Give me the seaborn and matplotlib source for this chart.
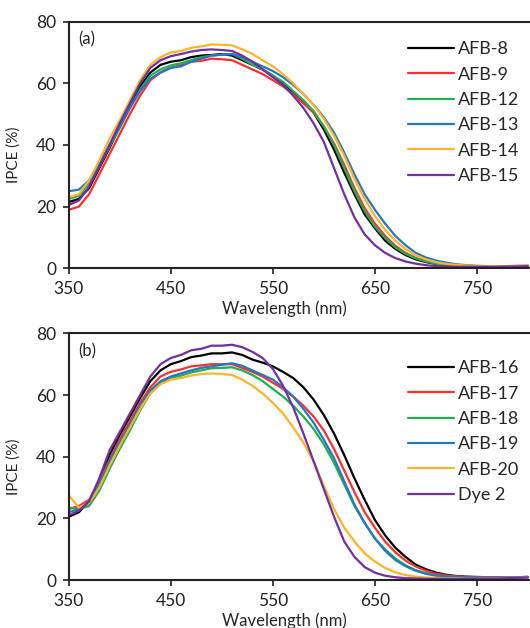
import numpy as np
import pandas as pd
import seaborn as sns
import matplotlib.pyplot as plt

# wavelength grid (nm)
wavelength = list(range(350, 810, 10))

# panel (a)
afb8 = [21.5, 22.5, 26, 32.5, 39, 46, 52.5, 59, 63.5, 66, 67, 67.5, 68.5, 69, 69.2, 69.5, 69, 67.5, 66,
        64.5, 62.5, 60, 57, 54, 50.5, 45, 38.5, 31, 24, 17.5, 13, 9, 6.3, 4.3, 2.9, 2, 1.4, 1,
        0.8, 0.6, 0.5, 0.5, 0.5, 0.6, 0.6, 0.7]
afb9 = [19, 20, 24, 30.5, 37, 43.5, 50, 56, 61, 63.5, 65, 66, 67, 67.3, 68, 67.8, 67.5, 66, 64.5,
        63, 61, 59, 56.5, 53.5, 50.5, 46, 40.5, 33.5, 26, 19.5, 14.5, 10.5, 7.3, 5, 3.4, 2.3, 1.6, 1.2,
        0.9, 0.8, 0.7, 0.6, 0.6, 0.7, 0.7, 0.8]
afb12 = [22.5, 23.5, 27.5, 33, 39.5, 45.5, 52, 58, 62.5, 64.5, 65.8, 66.5, 67.5, 68.5, 69, 69.3, 69.5, 68, 66,
         64.5, 62.5, 60.5, 57.5, 54.5, 51, 46, 40, 32.5, 25, 18.5, 13.5, 9.8, 6.8, 4.7, 3.2, 2.2, 1.5, 1.1,
         0.8, 0.7, 0.6, 0.6, 0.6, 0.6, 0.7, 0.7]
afb13 = [25, 25.5, 28.5, 34, 40, 46, 52, 57.5, 61.5, 63.5, 65, 65.5, 67, 68, 69, 69.3, 69.5, 68.5, 67,
         65.5, 64, 62, 59.5, 56.5, 53, 49, 44, 37.5, 30.5, 24, 19, 14.5, 10.5, 7.5, 5, 3.5, 2.5, 1.8,
         1.3, 1, 0.8, 0.7, 0.7, 0.7, 0.8, 0.8]
afb14 = [23, 24, 28.5, 35, 42, 48, 54.5, 61, 66, 68.5, 70, 70.5, 71.5, 72, 72.6, 72.5, 72.3, 71, 69.5,
         67.5, 65.5, 63, 60, 56.5, 53, 48.5, 43, 36.5, 29, 22.5, 17, 12.5, 9, 6.3, 4.2, 2.9, 2, 1.4,
         1.1, 0.9, 0.7, 0.7, 0.7, 0.7, 0.8, 0.8]
afb15 = [20.5, 22, 26.5, 33, 40, 47, 53.5, 60, 65, 67.5, 68.8, 69.5, 70.3, 70.8, 71, 70.8, 70.5, 69, 67,
         64.5, 62, 59.5, 56, 52, 47, 41, 32.5, 24, 16.5, 11, 7.5, 5, 3.3, 2.2, 1.5, 1, 0.7, 0.6,
         0.5, 0.5, 0.5, 0.5, 0.5, 0.6, 0.6, 0.7]

# panel (b)
afb16 = [20.5, 22, 25.5, 32, 40.5, 47, 53, 59, 64.5, 68, 70, 71, 72.3, 72.8, 73.5, 73.5, 73.8, 73, 71.5,
         70.5, 69.3, 67.5, 65.5, 62.5, 58.5, 53.5, 47.5, 40.5, 33, 26, 19.5, 14.5, 10.5, 7.5, 5, 3.5, 2.4, 1.7,
         1.3, 1.1, 1, 0.9, 0.9, 0.9, 0.9, 1]
afb17 = [23, 24, 26, 32, 39, 45.5, 51.5, 57.5, 62.5, 66, 67.5, 68.3, 69.3, 69.6, 70, 70, 70, 68.8, 67.5,
         66, 64, 62, 59.5, 56.5, 53, 48.5, 42.5, 35.5, 28.5, 22, 17, 12.5, 9, 6.3, 4.4, 3, 2, 1.5,
         1.2, 1, 0.9, 0.9, 0.9, 0.9, 0.9, 1]
afb18 = [23.5, 23, 24, 29, 36, 42.5, 48.5, 55, 60.5, 64, 65.5, 66.3, 67.3, 68, 68.7, 68.8, 69, 68, 66.5,
         64.5, 62, 59.5, 56.5, 53, 49, 44, 38, 31, 24, 18.5, 13.5, 10, 7, 4.8, 3.2, 2.2, 1.5, 1.1,
         1, 0.9, 0.8, 0.8, 0.8, 0.8, 0.9, 1]
afb19 = [22, 23, 25, 31, 38.5, 44.5, 50.5, 56.5, 61.5, 64.5, 66, 67, 68, 68.8, 69.3, 69.8, 70.3, 69.5, 68,
         66.5, 65, 62.5, 59.5, 55.5, 51, 45.5, 39.5, 32, 24.5, 18.5, 13.5, 9.5, 6.5, 4.5, 3, 2, 1.4, 1.1,
         1, 0.9, 0.8, 0.8, 0.8, 0.8, 0.9, 1]
afb20 = [27.5, 23.5, 25, 30, 37, 43.5, 49.5, 55.5, 60.5, 63.5, 65, 65.5, 66.3, 66.8, 67, 66.8, 66.5, 65, 63,
         60.5, 57.5, 54, 49.5, 44.5, 38.5, 30.5, 23, 17, 12.5, 8.7, 6, 3.9, 2.5, 1.6, 1.1, 0.8, 0.7, 0.6,
         0.6, 0.6, 0.6, 0.6, 0.6, 0.7, 0.7, 0.8]
dye2 = [21, 22.5, 25.5, 33, 42, 48, 54, 60, 66, 70, 72, 73, 74.5, 75, 76, 76, 76.3, 75.5, 74,
        72, 68.5, 63, 56, 47.5, 38.5, 29.5, 20.5, 12.5, 7.5, 4.2, 2.4, 1.4, 0.9, 0.6, 0.5, 0.4, 0.4, 0.4,
        0.4, 0.5, 0.5, 0.5, 0.5, 0.6, 0.7, 0.8]

labels_a = ["AFB-8", "AFB-9", "AFB-12", "AFB-13", "AFB-14", "AFB-15"]
labels_b = ["AFB-16", "AFB-17", "AFB-18", "AFB-19", "AFB-20", "Dye 2"]
colors = ["#000000", "#ff2f2f", "#1fae50", "#2577c2", "#ffb428", "#7030a0"]

series_a = [afb8, afb9, afb12, afb13, afb14, afb15]
series_b = [afb16, afb17, afb18, afb19, afb20, dye2]


def long_frame(labels, series):
    parts = [pd.DataFrame({"wl": wavelength, "ipce": s, "dye": lab}) for lab, s in zip(labels, series)]
    return pd.concat(parts, ignore_index=True)


sns.set_style("ticks")
plt.rcParams["font.family"] = ["Lato", "DejaVu Sans"]

fig = plt.figure(figsize=(5.30, 6.28), dpi=100)
ax_a = fig.add_axes([0.1296, 0.5728, 0.8704, 0.3927])
ax_b = fig.add_axes([0.1296, 0.0764, 0.8704, 0.3928])

panels = [(ax_a, labels_a, series_a, "(a)", 0.965), (ax_b, labels_b, series_b, "(b)", 0.935)]
for ax, labels, series, tag, leg_y in panels:
    df = long_frame(labels, series)
    sns.lineplot(data=df, x="wl", y="ipce", hue="dye", palette=dict(zip(labels, colors)),
                 linewidth=1.6, ax=ax)
    ax.set_xlim(350, 802)
    ax.set_ylim(0, 80)
    ax.set_xticks([350, 450, 550, 650, 750])
    ax.set_yticks([0, 20, 40, 60, 80])
    ax.tick_params(direction="out", length=4, width=1.2, pad=5, labelsize=12.5, colors="#222222")
    ax.set_xlabel("Wavelength (nm)", fontsize=12, labelpad=1)
    ax.xaxis.set_label_coords(0.467, -0.13)
    ax.set_ylabel("IPCE (%)", fontsize=11, labelpad=4)
    ax.yaxis.set_label_coords(-0.105, 0.46)
    for side in ["left", "bottom", "top"]:
        ax.spines[side].set_linewidth(1.5)
        ax.spines[side].set_color("#222222")
    ax.spines["right"].set_visible(False)
    ax.text(0.02, 0.928, tag, transform=ax.transAxes, fontsize=12, va="center")
    ax.legend(loc="upper right", bbox_to_anchor=(1.0, leg_y), frameon=False, fontsize=13,
              handlelength=2.55, handletextpad=0.2, labelspacing=0.52, borderaxespad=0.2)

fig.savefig("out.png", dpi=100)
